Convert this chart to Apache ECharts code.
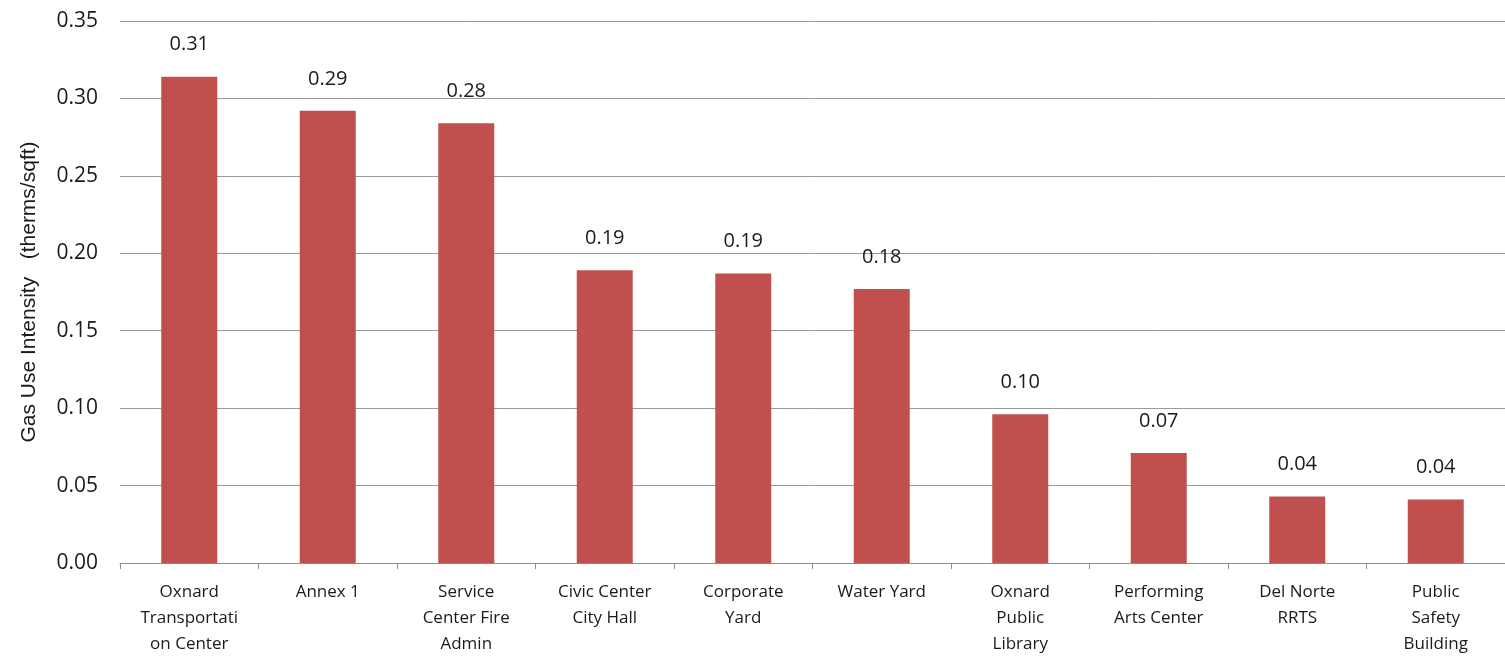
<!DOCTYPE html>
<html><head><meta charset="utf-8">
<script src="https://cdn.jsdelivr.net/npm/echarts@6/dist/echarts.min.js"></script>
<style>html,body{margin:0;padding:0;background:#fff}#c{width:1505px;height:657px}</style>
</head><body><div id="c"></div>
<script>
const categories = ["Oxnard\nTransportati\non Center","Annex 1","Service\nCenter Fire\nAdmin","Civic Center\nCity Hall","Corporate\nYard","Water Yard","Oxnard\nPublic\nLibrary","Performing\nArts Center","Del Norte\nRRTS","Public\nSafety\nBuilding"];
const values = [0.314, 0.292, 0.284, 0.189, 0.187, 0.177, 0.096, 0.071, 0.043, 0.041];
const yAxisName = "Gas Use Intensity   (therms/sqft)";
const narrow = "'Open Sans', sans-serif";
const chart = echarts.init(document.getElementById('c'));
chart.setOption({
  animation: false,
  grid: {left: 120, right: -6, top: 21, bottom: 94, containLabel: false},
  xAxis: {
    type: 'category', data: categories,
    axisLine: {lineStyle: {color: '#8c8c8c', width: 1}},
    axisTick: {show: true, length: 6, lineStyle: {color: '#8c8c8c'}},
    axisLabel: {interval: 0, color: '#1a1a1a', fontSize: 17, fontFamily: narrow, lineHeight: 26, margin: 16}
  },
  yAxis: {
    type: 'value', min: 0, max: 0.35, interval: 0.05,
    name: yAxisName, nameLocation: 'middle', nameGap: 80,
    nameTextStyle: {fontSize: 21, color: '#1a1a1a', fontFamily: "'Liberation Sans', Arial, sans-serif"},
    axisLine: {show: false}, axisTick: {show: false},
    axisLabel: {color: '#1a1a1a', fontSize: 21, fontFamily: narrow, margin: 22, formatter: v => v.toFixed(2)},
    splitLine: {lineStyle: {color: '#9a9a9a', width: 1}}
  },
  series: [{
    type: 'bar', data: values, barWidth: 56,
    itemStyle: {color: '#C0504D'},
    label: {show: true, position: 'top', distance: 22, color: '#1a1a1a', fontSize: 20, fontFamily: narrow, formatter: p => p.value.toFixed(2)}
  }]
});
</script></body></html>
